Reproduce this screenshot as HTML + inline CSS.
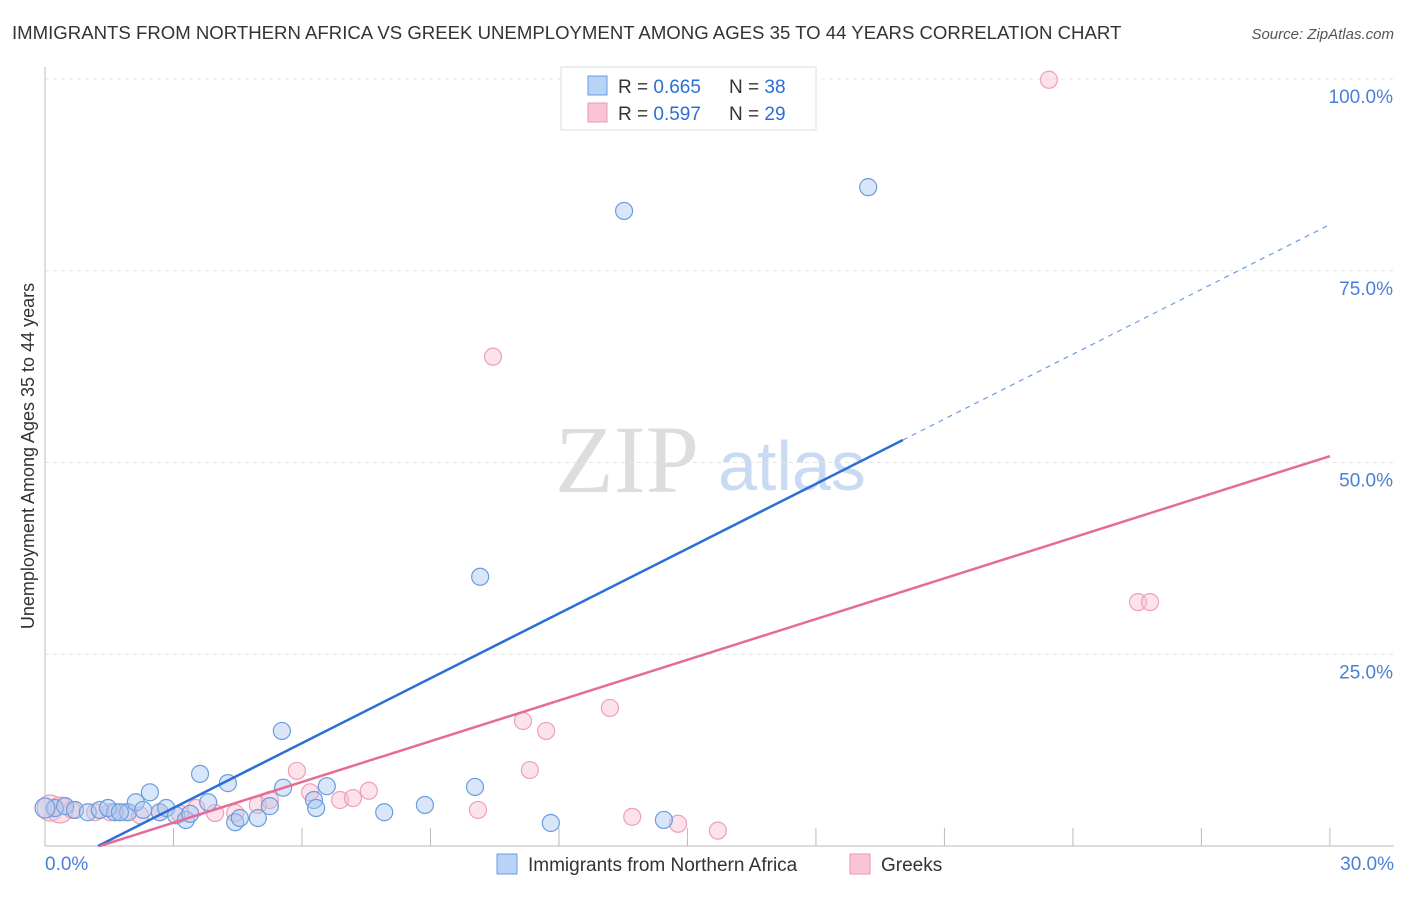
<!DOCTYPE html>
<html><head><meta charset="utf-8"><style>
body{margin:0;background:#fff;font-family:"Liberation Sans",sans-serif;}
</style></head><body>
<svg width="1406" height="892" xmlns="http://www.w3.org/2000/svg">
<text x="12" y="39" font-size="18.6" fill="#333">IMMIGRANTS FROM NORTHERN AFRICA VS GREEK UNEMPLOYMENT AMONG AGES 35 TO 44 YEARS CORRELATION CHART</text>
<text x="1394" y="39" font-size="15" fill="#555" font-style="italic" text-anchor="end">Source: ZipAtlas.com</text>
<text x="555" y="492" font-size="96" fill="#ddd" font-family="Liberation Serif,serif">ZIP</text>
<text x="718" y="490" font-size="70" fill="#c9dbf3">atlas</text>
<g id="grid"></g>
<g id="axes"></g>
<g id="pts"></g>
<g id="lines"></g>
<text transform="translate(34,456) rotate(-90)" font-size="18" fill="#333" text-anchor="middle">Unemployment Among Ages 35 to 44 years</text>
<g>
<rect x="561" y="67" width="255" height="63" fill="#fff" stroke="#ddd"/>
<rect x="588" y="76" width="19" height="19" fill="#b8d3f5" stroke="#6a9de0"/>
<text x="618" y="93" font-size="19" fill="#333">R = <tspan fill="#2b6fd6">0.665</tspan></text>
<text x="729" y="93" font-size="19" fill="#333">N = <tspan fill="#2b6fd6">38</tspan></text>
<rect x="588" y="103" width="19" height="19" fill="#f9c5d4" stroke="#ec9ab4"/>
<text x="618" y="120" font-size="19" fill="#333">R = <tspan fill="#2b6fd6">0.597</tspan></text>
<text x="729" y="120" font-size="19" fill="#333">N = <tspan fill="#2b6fd6">29</tspan></text>
</g>
<g>
<rect x="497" y="854" width="20" height="20" fill="#b8d3f5" stroke="#6a9de0"/>
<text x="528" y="871" font-size="19" fill="#333">Immigrants from Northern Africa</text>
<rect x="850" y="854" width="20" height="20" fill="#f9c5d4" stroke="#ec9ab4"/>
<text x="881" y="871" font-size="19" fill="#333">Greeks</text>
</g>
</svg>
<script>
const blueX=[0.23,0.47,0.70,1.0,1.28,1.63,1.94,2.12,2.45,2.68,2.83,3.06,3.29,3.62,3.81,4.27,4.44,4.55,4.97,5.25,5.53,5.56,6.28,6.33,6.58,7.92,8.87,10.04,10.16,11.81,13.52,14.45,19.22,0,1.47,2.29,3.39,1.75];
const blueY=[4.95,5.2,4.7,4.4,4.7,4.4,4.4,5.7,7.0,4.4,4.95,4.0,3.4,9.4,5.7,8.2,3.1,3.65,3.65,5.2,15.0,7.6,6.0,4.95,7.8,4.4,5.35,7.7,35.1,3.0,82.8,3.4,85.9,4.95,4.95,4.7,4.2,4.4];
const pinkX=[0.12,0.35,0.63,1.17,1.52,1.87,2.22,2.68,3.15,3.53,3.97,4.44,4.97,5.25,5.88,6.19,6.89,7.19,7.56,10.11,10.46,11.16,11.32,11.70,13.19,13.71,14.78,15.71,23.44,25.52,25.8];
const pinkY=[4.95,4.7,4.7,4.4,4.4,4.4,4.0,4.4,4.2,4.95,4.3,4.3,5.35,6.0,9.8,7.0,6.0,6.25,7.2,4.7,63.8,16.3,9.9,15.0,18.0,3.8,2.9,2.0,99.9,31.8,31.8];
const yTicks=[25,50,75,100];
const yTickLabels=["25.0%","50.0%","75.0%","100.0%"];
const blueFit=[2.817,-3.49];
const pinkFit=[1.77,-2.27];
const X=v=>45+v*42.83, Y=v=>846-v*7.67;
const NS="http://www.w3.org/2000/svg";
function mk(p,t,a){const e=document.createElementNS(NS,t);for(const k in a)e.setAttribute(k,a[k]);p.appendChild(e);return e;}
const grid=document.getElementById('grid'),axes=document.getElementById('axes'),pts=document.getElementById('pts'),lines=document.getElementById('lines');
yTicks.forEach((t,i)=>{
 const g=mk(grid,'line',{x1:45,x2:1394,y1:Y(t),y2:Y(t),stroke:'#e4e4e4','stroke-dasharray':'4,4'});
 
 
 const tx=mk(grid,'text',{x:1393,y:Y(t)+24,'font-size':19,fill:'#4a7fd8','text-anchor':'end'});
 tx.textContent=yTickLabels[i];
 
 
});
mk(axes,'line',{x1:45,x2:45,y1:67,y2:846,stroke:'#bbb'});
mk(axes,'line',{x1:45,x2:1394,y1:846,y2:846,stroke:'#bbb'});
for(let i=1;i<=10;i++){mk(axes,'line',{x1:X(i*3),x2:X(i*3),y1:828,y2:846,stroke:'#bbb'});}
const l0=mk(axes,'text',{x:45,y:870,'font-size':19,fill:'#4a7fd8'});l0.textContent='0.0%';


const l1=mk(axes,'text',{x:1394,y:870,'font-size':19,fill:'#4a7fd8','text-anchor':'end'});l1.textContent='30.0%';


pinkX.forEach((x,i)=>{const c=mk(pts,'circle',{cx:X(x),cy:Y(pinkY[i]),r:i<2?13:8.5,fill:'rgba(249,190,208,0.45)',stroke:'#eea0b8','stroke-width':1.2});
 
 });
blueX.forEach((x,i)=>{const c=mk(pts,'circle',{cx:X(x),cy:Y(blueY[i]),r:i==33?10:8.5,fill:'rgba(170,200,240,0.45)',stroke:'#6a9de0','stroke-width':1.2});
 
 });
function fit(f,x){return f[0]*x+f[1];}
function f0(f){return f[1]/f[0];}
const bx0=-f0(blueFit);
const bs=mk(lines,'line',{x1:X(bx0),y1:Y(0),x2:X(20.03),y2:Y(fit(blueFit,20.03)),stroke:'#2a6fd6','stroke-width':2.5});


const bd=mk(lines,'line',{x1:X(20.03),y1:Y(fit(blueFit,20.03)),x2:X(30),y2:Y(fit(blueFit,30)),stroke:'#6a9de0','stroke-width':1.2,'stroke-dasharray':'5,5'});


const px0=-f0(pinkFit);
const pl=mk(lines,'line',{x1:X(px0),y1:Y(0),x2:X(30),y2:Y(fit(pinkFit,30)),stroke:'#e66b96','stroke-width':2.5});


</script>
</body></html>
